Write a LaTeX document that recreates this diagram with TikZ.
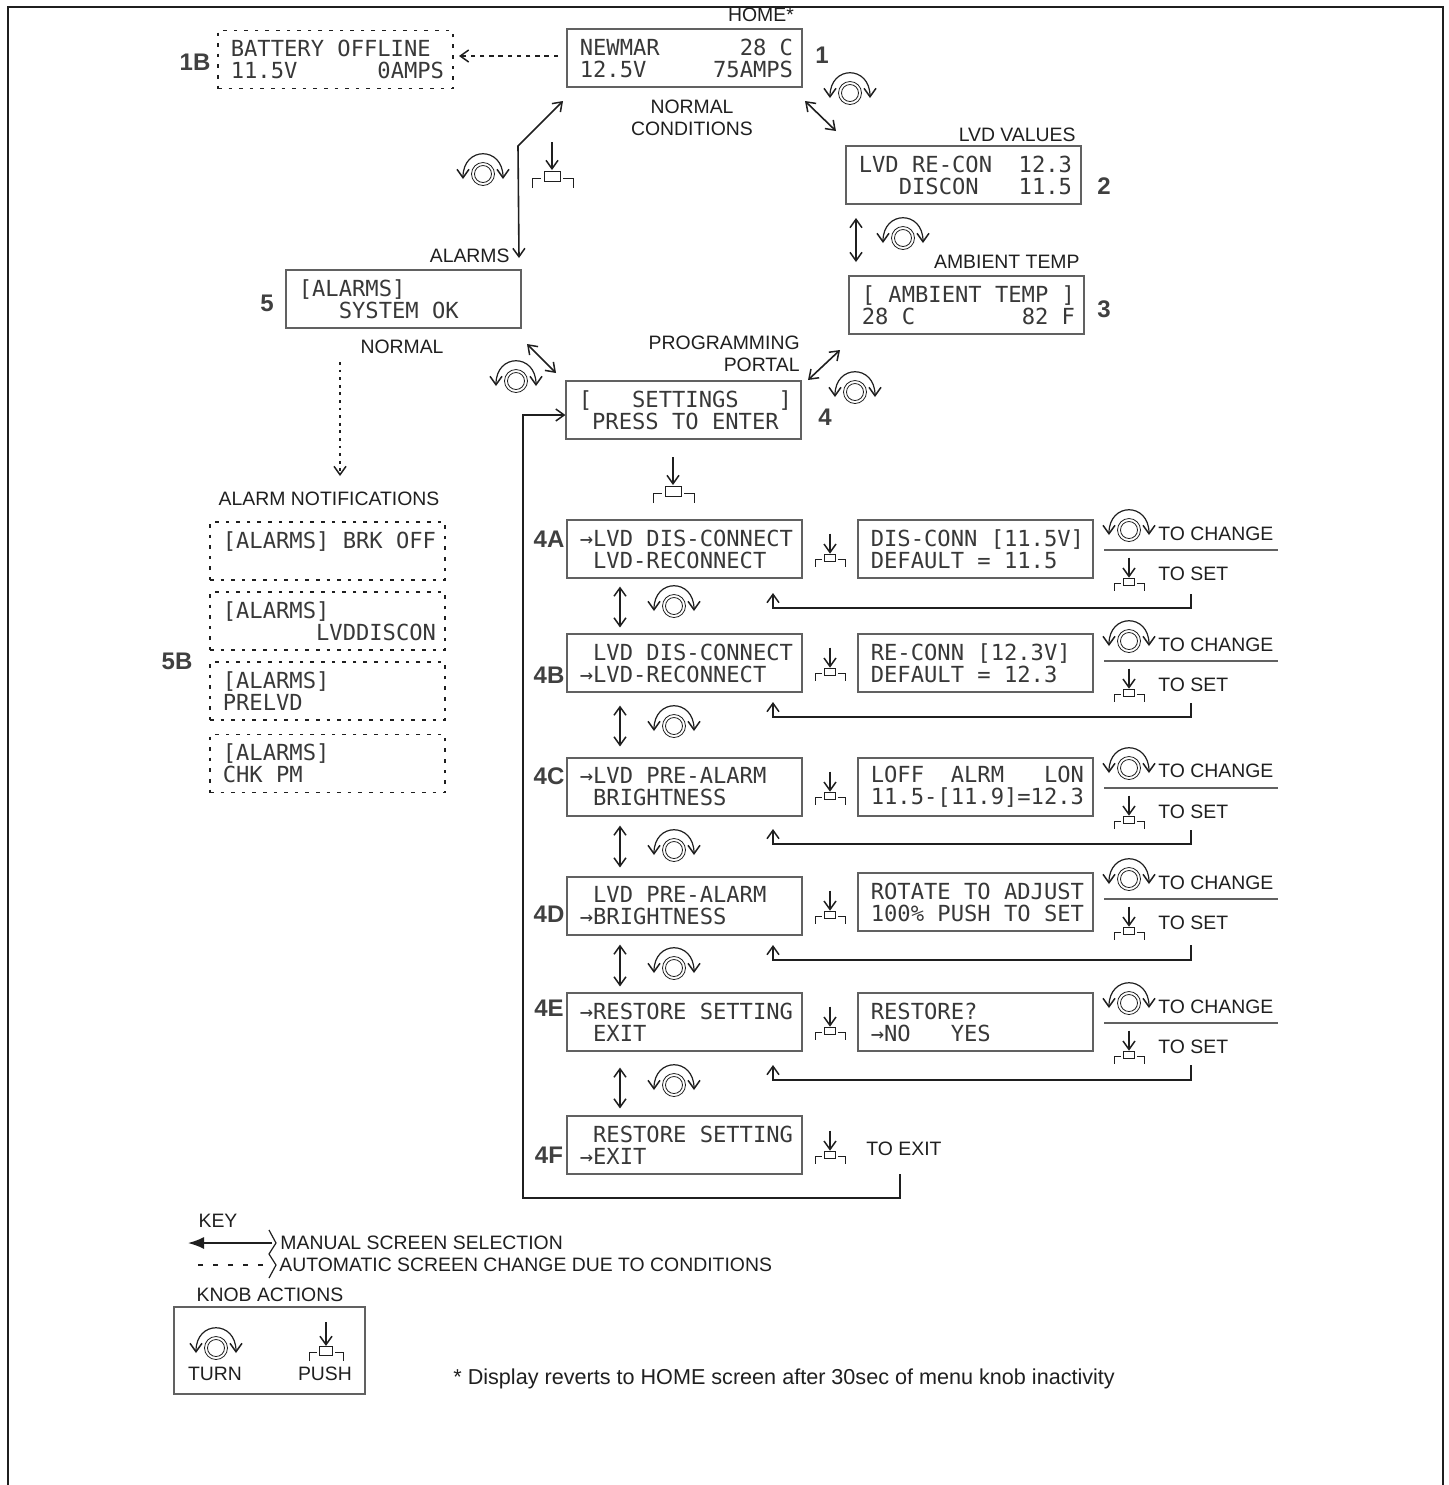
\documentclass[tikz,border=0pt]{standalone}
\usepackage{fontspec}
\setmainfont{Liberation Sans}
\newfontfamily\lcdfont{DejaVu Sans Mono}
\usetikzlibrary{arrows.meta}
\definecolor{ink}{gray}{0.12}
\definecolor{boxline}{gray}{0.38}
\definecolor{lcdink}{gray}{0.22}
\newcommand{\lcdlines}[2]{{\lcdfont\fontsize{11.07}{11}\selectfont\vbox{\baselineskip=11pt\lineskiplimit=-10pt
  \hbox to 106.7pt{\hskip1pt #1\hss}\hbox to 106.7pt{\hskip1pt #2\hss}}}}
\tikzset{
  x=0.5pt,y=-0.5pt,
  >={Straight Barb[length=4.2pt,width=6pt,line width=.75pt]},
  lcdbox/.style={draw=boxline,line width=.55pt,minimum width=117.5pt,minimum height=29pt,inner sep=0pt,text=lcdink},
  lcddots/.style={lcdbox,draw=ink,line width=.75pt,dash pattern=on 1.8pt off 3.5pt},
  lab/.style={font=\fontsize{9.7}{11}\selectfont,inner sep=0pt,text=ink},
  note/.style={font=\fontsize{10.8}{12}\selectfont,inner sep=0pt,text=ink},
  tag/.style={font=\bfseries\fontsize{12}{14}\selectfont,inner sep=0pt,text=ink!85!white},
  conn/.style={draw=ink,line width=.8pt},
  sepline/.style={draw=boxline,line width=.6pt},
  turnknob/.pic={
    \draw[line width=.4pt,draw=ink] (0,0) circle (11.5) (0,0) circle (8.5);
    \draw[conn,line width=.6pt,<->] (-20,5) .. controls (-20,-28) and (20,-28) .. (20,5);
  },
  pushknob/.pic={
    \draw[conn,line width=.55pt,->] (0,-34) -- (0,-6);
    \draw[draw=ink,line width=.45pt] (-8,-5) rectangle (8,5);
    \draw[draw=ink,line width=.45pt] (-20,12) -- (-20,2) -- (-11,2) (11,2) -- (21,2) -- (21,12);
  }
}
\begin{document}
\begin{tikzpicture}
\useasboundingbox (0,0) rectangle (1449,1485);
\draw[draw=ink,line width=1.1pt] (8,1485) -- (8,7) -- (1443,7) -- (1443,1485);

% top screens
\node[lcdbox] (s1) at (684.5,58) {\lcdlines{NEWMAR~~~~~~28~C}{12.5V~~~~~75AMPS}};
\node[lcddots] (s1B) at (335.5,59.5) {\lcdlines{BATTERY~OFFLINE}{11.5V~~~~~~0AMPS}};
\node[lcdbox] (s2) at (963.5,175) {\lcdlines{LVD~RE-CON~~12.3}{~~~DISCON~~~11.5}};
\node[lcdbox] (s3) at (966.5,305) {\lcdlines{[~AMBIENT~TEMP~]}{28~C~~~~~~~~82~F}};
\node[lcdbox] (s5) at (403.5,299) {\lcdlines{[ALARMS]}{~~~SYSTEM~OK}};
\node[lcdbox] (s4) at (683.5,410) {\lcdlines{[~~~SETTINGS~~~]}{~PRESS~TO~ENTER}};

% alarm notifications
\node[lcddots] (a1) at (327.5,551) {\lcdlines{[ALARMS]~BRK~OFF}{~}};
\node[lcddots] (a2) at (327.5,621) {\lcdlines{[ALARMS]}{~~~~~~~LVDDISCON}};
\node[lcddots] (a3) at (327.5,691) {\lcdlines{[ALARMS]}{PRELVD}};
\node[lcddots] (a4) at (327.5,763.5) {\lcdlines{[ALARMS]}{CHK~PM}};

% settings menu
\node[lcdbox] (m4A) at (684.5,549) {\lcdlines{→LVD~DIS-CONNECT}{~LVD-RECONNECT}};
\node[lcdbox] (m4B) at (684.5,663) {\lcdlines{~LVD~DIS-CONNECT}{→LVD-RECONNECT}};
\node[lcdbox] (m4C) at (684.5,787) {\lcdlines{→LVD~PRE-ALARM}{~BRIGHTNESS}};
\node[lcdbox] (m4D) at (684.5,906) {\lcdlines{~LVD~PRE-ALARM}{→BRIGHTNESS}};
\node[lcdbox] (m4E) at (684.5,1022) {\lcdlines{→RESTORE~SETTING}{~EXIT}};
\node[lcdbox] (m4F) at (684.5,1145) {\lcdlines{~RESTORE~SETTING}{→EXIT}};
\node[lcdbox] (v4A) at (975.5,549) {\lcdlines{DIS-CONN~[11.5V]}{DEFAULT~=~11.5}};
\node[lcdbox] (v4B) at (975.5,663) {\lcdlines{RE-CONN~[12.3V]}{DEFAULT~=~12.3}};
\node[lcdbox] (v4C) at (975.5,787) {\lcdlines{LOFF~~ALRM~~~LON}{11.5-[11.9]=12.3}};
\node[lcdbox] (v4D) at (975.5,902) {\lcdlines{ROTATE~TO~ADJUST}{100\%~PUSH~TO~SET}};
\node[lcdbox] (v4E) at (975.5,1022) {\lcdlines{RESTORE?}{→NO~~~YES}};

% labels
\node[lab] (lHome) at (761,15) {HOME*};
\node[lab,align=center] (lNormalC) at (692,118) {NORMAL\\[0pt]CONDITIONS};
\node[lab,anchor=east] (lLvd) at (1076,135) {LVD VALUES};
\node[lab,anchor=east] (lAmb) at (1080,262) {AMBIENT TEMP};
\node[lab,anchor=east] (lAlarms) at (510,256) {ALARMS};
\node[lab] (lNormal) at (402,347) {NORMAL};
\node[lab,align=right,anchor=east] (lProg) at (800,354) {PROGRAMMING\\[0pt]PORTAL};
\node[lab] (lNotif) at (329,499) {ALARM NOTIFICATIONS};
\node[lab,anchor=west] (lExit) at (866,1149) {TO EXIT};

% tags
\foreach \n/\x/\y in {1B/195/62,5/267/303,2/1104/186,3/1104/309,1/822/55,4/825/417,5B/177/661,4A/549/539,4B/549/675,4C/549/776,4D/549/914,4E/549/1008,4F/549/1155}
  \node[tag] (t\n) at (\x,\y) {\n};

% knob icons beside the top screens
\foreach \x/\y in {483/174,850/93,903/238,516/381,855/392,674/606,674/726,674/850,674/968,674/1085}
  \pic at (\x,\y) {turnknob};
\foreach \x/\y in {552/176,673/491}
  \pic at (\x,\y) {pushknob};
\foreach \y in {558,672,796,915,1031,1155}
  \pic[scale=.72] at (830,\y) {pushknob};

% value rows: change / set
\foreach \r/\k/\c/\sl/\p/\s/\ry/\ay/\sy in {
  4A/530/534/550/582/574/608/593/594,
  4B/641/645/661/693/685/717/702/703,
  4C/768/771/788/820/812/844/829/830,
  4D/879/883/899/931/923/960/945/945,
  4E/1003/1007/1023/1055/1047/1080/1065/1065}{
  \pic at (1129,\k) {turnknob};
  \pic[scale=.72] at (1129,\p) {pushknob};
  \node[lab,anchor=west] (chg\r) at (1158,\c) {TO CHANGE};
  \node[lab,anchor=west] (set\r) at (1158,\s) {TO SET};
  \coordinate (sa\r) at (1104,\sl);
  \coordinate (sb\r) at (1278,\sl);
  \draw[sepline] (sa\r) -- (sb\r);
  \coordinate (ra\r) at (1191,\sy);
  \coordinate (rb\r) at (773,\ay);
  \coordinate (rc\r) at (1191,\ry);
  \draw[conn,->] (ra\r) -- (rc\r) -| (rb\r);
}

% menu up/down arrows: end points sit a given gap from the screens
\foreach \a/\b/\ga/\gb in {m4A/m4B/4/3,m4B/m4C/6.5/5.5,m4C/m4D/4.5/4.5,m4D/m4E/4.5/3,m4E/m4F/8/3.5}
  \draw[conn,<->] ([xshift=-32.25pt,yshift=-\ga pt]\a.south) -- ([xshift=-32.25pt,yshift=\gb pt]\b.north);

% screen connectors
\coordinate (c12a) at (805,101); \coordinate (c12b) at (836,131);
\draw[conn,<->] (c12a) -- (c12b);
\coordinate (c23a) at (856,218); \coordinate (c23b) at (856,262);
\draw[conn,<->] (c23a) -- (c23b);
\coordinate (c34a) at (808,380); \coordinate (c34b) at (840,350);
\draw[conn,<->] (c34a) -- (c34b);
\coordinate (c45a) at (527,344); \coordinate (c45b) at (556,373);
\draw[conn,<->] (c45a) -- (c45b);
\coordinate (c51a) at (519,258); \coordinate (c51m) at (518,146); \coordinate (c51b) at (563,101);
\draw[conn,<->] (c51a) -- (c51m) -- (c51b);
\coordinate (c1Ba) at (558,56); \coordinate (c1Bb) at (459,56);
\draw[conn,->,line width=.9pt,dash pattern=on 2.2pt off 2.4pt] (c1Ba) -- (c1Bb);
\coordinate (c55a) at (340,362); \coordinate (c55b) at (340,476);
\draw[conn,->,dash pattern=on 1.4pt off 2.4pt] (c55a) -- (c55b);
\coordinate (cxa) at (900,1174); \coordinate (cxb) at (900,1198); \coordinate (cxc) at (523,1198);
\coordinate (cxd) at ([yshift=-2.5pt]s4.west);
\draw[conn,->] (cxa) -- (cxb) -- (cxc) -- (cxc |- cxd) -- (cxd);

% key
\node[lab] (kKey) at (218,1221) {KEY};
\coordinate (ka) at (272,1243); \coordinate (kb) at (188,1243);
\draw[conn,-{Latex[length=8pt,width=6pt]}] (ka) -- (kb);
\coordinate (kc) at (263,1265); \coordinate (kd) at (198,1265);
\draw[draw=ink,line width=.7pt,dash pattern=on 2.5pt off 5pt] (kc) -- (kd);
\draw[draw=ink,line width=.6pt] (269,1230) .. controls (272,1236) .. (276,1243) .. controls (272,1249) .. (269,1254)
   .. controls (272,1260) .. (276,1265) .. controls (272,1271) .. (269,1278);
\node[lab,anchor=west] (kManual) at (280,1243) {MANUAL SCREEN SELECTION};
\node[lab,anchor=west] (kAuto) at (279,1265) {AUTOMATIC SCREEN CHANGE DUE TO CONDITIONS};
\node[lab] (kKnob) at (270,1295) {KNOB ACTIONS};
\node[draw=boxline,line width=.55pt,minimum width=95.5pt,minimum height=43.5pt,inner sep=0pt] (kBox) at (269.5,1350.5) {};
\pic at (216,1348) {turnknob};
\pic[scale=.85] at (326,1351) {pushknob};
\node[lab] (kTurn) at (215,1374) {TURN};
\node[lab] (kPush) at (325,1374) {PUSH};
\node[note,anchor=west] (kNote) at (453,1379) {* Display reverts to HOME screen after 30sec of menu knob inactivity};
\end{tikzpicture}
\end{document}
